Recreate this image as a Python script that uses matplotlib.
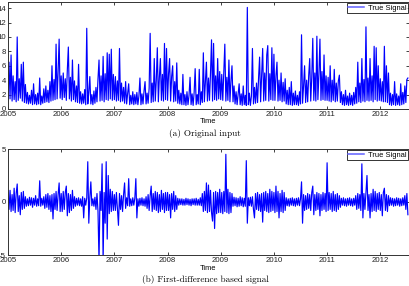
import numpy as np
import matplotlib
matplotlib.use("Agg")
import matplotlib.pyplot as plt

# ---- data: weekly samples ----
start_year = 2005
weeks_per_year = 52

sig_2005 = [1.2, 6.5, 1.4, 7.5, 1.1, 4.6, 1.3, 3.8, 1.0, 10.0, 1.2, 4.2, 1.5, 6.2, 1.1, 6.5, 0.9, 3.4,
            0.8, 2.3, 0.7, 1.9, 0.8, 2.6, 0.6, 3.5, 0.7, 2.0, 0.6, 2.2, 0.7, 4.3, 0.6, 1.8, 0.8,
            2.8, 0.9, 3.2, 1.0, 2.6, 0.9, 3.8, 1.1, 6.0, 1.2, 4.1, 1.3, 9.0, 1.4, 5.2, 9.7, 1.5]
sig_2006 = [4.6, 1.3, 5.0, 1.6, 4.2, 1.2, 5.4, 8.6, 1.4, 4.4, 1.1, 6.8, 1.3, 3.9, 1.0, 3.2, 0.9, 6.2,
            0.8, 2.4, 0.7, 2.1, 0.8, 2.7, 0.6, 11.2, 0.7, 2.3, 4.5, 0.7, 2.0, 0.6, 2.5, 0.8,
            3.0, 1.0, 4.2, 6.8, 1.1, 4.6, 1.2, 7.3, 1.0, 4.9, 1.3, 7.8, 1.2, 7.6, 1.4, 8.3, 1.2, 4.8]
sig_2007 = [1.3, 4.5, 1.1, 3.9, 1.2, 8.4, 1.0, 3.6, 1.1, 3.0, 0.8, 3.8,
            0.7, 2.2, 3.5, 0.6, 1.9, 0.7, 2.4, 0.6, 2.0, 0.7, 2.3, 0.6, 1.8, 4.3, 0.6, 2.1, 0.7, 2.5, 3.8, 0.7, 2.2, 0.8,
            2.9, 10.5, 0.9, 3.6, 1.0, 7.0, 1.1, 4.0, 8.5, 1.0, 4.4, 7.0, 1.2, 4.8, 1.1, 9.1, 1.3, 8.4]
sig_2008 = [1.2, 4.9, 7.0, 1.1, 4.5, 6.0, 1.0, 3.8, 1.1, 6.4, 0.8,
            2.6, 0.7, 2.2, 0.6, 4.8, 0.6, 2.0, 0.5, 2.4, 0.6, 1.9, 4.4, 0.6, 2.1, 0.5, 2.3, 5.6, 0.6, 2.0, 0.7, 5.5, 0.6, 2.4,
            0.9, 7.8, 1.0, 3.9, 6.5, 1.1, 4.3, 1.2, 5.0, 9.6, 1.1, 9.1, 1.3, 4.6, 1.2, 7.0, 1.4, 5.2]
sig_2009 = [1.3, 4.8, 1.2, 5.3, 9.0, 1.1, 4.4, 1.2, 6.8, 1.0, 3.9, 6.0, 1.0, 3.2,
            0.7, 2.4, 0.6, 2.0, 3.5, 0.6, 2.1, 0.5, 3.2, 0.6, 1.9, 0.5, 14.1, 0.6, 2.2, 0.5, 1.8,
            8.4, 0.7, 3.0, 0.8, 3.6, 0.9, 4.3, 7.2, 1.0, 4.6, 8.4, 1.1, 5.0, 1.2, 7.5, 8.8, 1.1, 4.9, 1.3, 8.5, 1.2]
sig_2010 = [7.6, 1.2, 4.6, 6.5, 1.1, 4.0, 1.2, 5.0, 1.0, 3.7, 1.1, 4.2,
            0.7, 2.6, 0.6, 3.0, 0.6, 3.8, 0.5, 2.2, 0.6, 2.5, 0.6, 1.9, 0.5, 2.4, 0.7,
            10.3, 0.8, 3.2, 6.0, 0.9, 4.0, 1.0, 4.6, 7.0, 1.1, 4.4, 9.8, 1.2, 5.0, 1.1, 10.1, 1.3, 4.8, 9.7, 1.2, 5.2, 1.3, 7.5, 1.2, 4.6]
sig_2011 = [1.2, 4.4, 1.1, 6.0, 1.0, 4.0, 1.2, 5.5, 1.0, 3.6, 1.1, 3.9, 4.7, 0.9,
            2.4, 0.6, 2.0, 0.5, 2.6, 0.6, 1.8, 0.5, 2.2, 0.6, 1.9, 0.5, 2.3, 0.7,
            3.0, 0.8, 6.5, 1.0, 3.6, 0.9, 7.0, 1.1, 4.1, 1.0, 11.4, 1.2, 4.3, 1.1, 7.0, 1.2, 4.6, 1.0, 8.7, 1.3, 8.5, 1.1, 6.0, 1.2]
sig_2012 = [4.2, 1.1, 3.8, 1.0, 8.7, 1.0, 6.0, 0.9, 5.0,
            0.6, 2.2, 0.5, 2.0, 0.6, 3.8, 0.5, 2.1, 0.6, 1.8, 0.5, 3.5, 0.6, 2.3, 0.7,
            3.2, 0.9, 4.1, 4.3]

dif_2005 = [0.9, -0.7, 1.1, -0.9, 0.7, -0.8, 1.3, -1.0, 0.8, 1.7, -0.9, 0.6, -1.2, 0.9, -0.7, 1.0, -0.6, 0.5,
            -0.4, 0.3, -0.35, 0.45, -0.3, 0.4, -0.5, 0.35, -0.3, 0.6, -0.4, 0.3, -0.35, 2.0, -0.4, 0.35, -0.3,
            0.5, -0.6, 0.7, -0.5, 0.8, -0.7, 0.6, -0.9, 0.7, -1.6, 0.8, -0.7, 1.0, -0.8, 0.7, 1.8, -0.9]
dif_2006 = [0.8, -0.9, 1.0, -0.7, 0.9, 1.5, -1.3, 0.8, -1.0, 0.7, -0.8, 1.1, -0.6, 0.5,
            -0.4, 0.35, -0.3, 0.4, -0.35, 0.3, -0.4, 0.5, -1.5, 0.35, -0.3, 0.4, 3.8, -2.0, 0.4, 1.9, -0.35, 0.3, -0.4, 0.45,
            -0.7, 0.8, -0.9, -5.6, 1.0, -0.8, 3.6, -5.6, 0.9, -2.0, 3.8, -3.5, 2.5, -1.1, 1.2, -0.9, 1.0, -0.8]
dif_2007 = [0.7, -0.8, 0.9, -0.6, -2.2, 0.8, -0.7, 0.6, -0.9, 0.7, 1.8, -0.6,
            0.4, -0.35, 2.2, -0.4, 0.3, -0.35, 0.4, -0.3, 0.35, 2.2, -1.5, 0.3, -0.4, 0.35, -0.3, 0.4, -0.35, 0.3, -0.4, 0.5,
            -0.6, 0.7, -0.8, 0.6, 1.5, -0.9, 0.8, -0.7, 1.0, -0.8, 0.9, -1.0, 0.7, -0.9, 1.1, -0.7, 0.8, -1.0, 0.9, -0.8]
dif_2008 = [0.9, -0.8, 0.7, -1.5, 0.8, -0.7, 1.0, -0.9, 0.6, -0.7,
            0.35, -0.3, 0.3, -0.25, 0.3, -0.3, 0.25, -0.3, 0.35, -0.25, 0.3, -0.3, 0.25, -0.35, 0.3, -0.25, 0.3, -0.3,
            0.35, -0.3, 0.25, -0.3, 0.4, -0.35,
            0.8, -0.9, 1.0, -0.8, 1.8, -1.0, 1.6, -0.9, 1.1, -1.0, -1.8, 0.9, -2.5, 1.0, -1.1, 0.9, -1.0, 1.2]
dif_2009 = [-1.0, 0.9, -1.1, 1.0, -0.9, 4.5, -1.0, 1.2, -1.1, 0.9, -1.0, 0.8,
            -0.4, 0.45, -0.35, 0.4, -0.45, 0.35, -0.4, 0.5, -0.35, 0.4, -0.45, 0.35, -0.4, 3.9, -2.0, 0.4, -0.35, 0.45, -0.4, 0.5,
            -0.7, -1.5, 0.8, -0.7, 0.9, -0.8, 0.7, -0.9, 0.8, -1.9, 0.9, -0.8, 1.0, -0.9, 0.8, -1.0, 1.2, -0.9, 1.0, -0.8]
dif_2010 = [0.9, -1.0, 1.5, -0.9, 1.0, -1.5, 0.8, -0.9, 1.1, -1.0, 0.9, -0.8,
            0.4, -0.35, 0.3, -0.4, 0.35, -0.3, 0.4, -0.35, 0.3, -0.4, 0.35, -0.3, 0.4, -0.35, 0.3,
            1.9, -2.0, 0.7, -0.8, 0.6, -0.7, 0.8, -0.6, 0.7, -0.8, 0.9, 1.5, -1.2, 0.7, -0.8, 0.9, -0.7, 0.8, -1.3,
            0.7, -0.8, 0.9, -0.7, 0.8, -0.9]
dif_2011 = [3.7, -0.8, 0.9, -0.7, 0.8, -0.9, 1.0, -0.8, 0.7, -0.9, 0.8, -0.7, 0.6, -0.5,
            0.35, -0.3, 0.4, -0.35, 0.3, -0.4, 0.35, -0.3, 0.4, -0.35, 0.3, -0.4, 0.35, -0.3,
            0.6, -0.7, 0.8, -0.6, 0.7, -0.8, 3.6, -1.5, 0.8, -0.7, 0.9, 2.5, -0.8, 0.7, -1.5, 0.8, -0.9, 1.2,
            -0.8, 1.0, -0.9, 0.8, -0.7, 0.9]
dif_2012 = [-0.8, 0.7, -1.3, 0.9, 1.3, -0.8, 0.7, -0.9, 0.6,
            -0.35, 0.4, -0.3, 0.35, -0.4, 0.3, -0.35, 0.4, -0.3, 0.35, -0.4, 0.3, -0.35, 0.4, -0.3,
            0.6, -0.7, 0.8, -1.2]

year_ticks = [2005, 2006, 2007, 2008, 2009, 2010, 2011, 2012]
top_yticks = [0, 2, 4, 6, 8, 10, 12, 14]
bot_yticks = [-5, 0, 5]
legend_label = "True Signal"
xlabel = "Time"
caption_a = "(a) Original input"
caption_b = "(b) First-difference based signal"

signal = sum([sig_2005, sig_2006, sig_2007, sig_2008, sig_2009, sig_2010, sig_2011, sig_2012], [])
diff = sum([dif_2005, dif_2006, dif_2007, dif_2008, dif_2009, dif_2010, dif_2011, dif_2012], [])
t_sig = start_year + np.arange(len(signal)) / weeks_per_year
t_dif = start_year + np.arange(len(diff)) / weeks_per_year

plt.rcParams['font.family'] = ['Liberation Sans', 'DejaVu Sans']
plt.rcParams['axes.unicode_minus'] = False

fig = plt.figure(figsize=(4.10, 2.86), dpi=100)
ax1 = fig.add_axes([8/410, 1-109/286, 401/410, 107/286])
ax2 = fig.add_axes([8/410, 1-255/286, 401/410, 106/286])

blue = '#0000ff'
ax1.plot(t_sig, signal, color=blue, lw=0.85, label=legend_label)
ax2.plot(t_dif, diff, color=blue, lw=0.85, label=legend_label)

xmax = 2012.54
for ax, yt, ylim in ((ax1, top_yticks, (0, 14.85)), (ax2, bot_yticks, (-5, 5))):
    ax.set_xlim(2005, xmax)
    ax.set_ylim(*ylim)
    ax.set_xticks(year_ticks)
    ax.set_xticklabels([str(y) for y in year_ticks])
    ax.set_yticks(yt)
    ax.tick_params(direction='in', length=2.5, width=0.6, labelsize=5.6, pad=1.5,
                   top=True, right=True, colors='#222222')
    for s in ax.spines.values():
        s.set_linewidth(0.7)
        s.set_color('#333333')
    ax.set_xlabel(xlabel, fontsize=5.4, labelpad=0.3)
    leg = ax.legend(loc='upper right', fontsize=5.4, frameon=True, fancybox=False,
                    borderpad=0.2, handlelength=2.1, handletextpad=0.5,
                    borderaxespad=0.15)
    leg.get_frame().set_edgecolor('black')
    leg.get_frame().set_linewidth(0.7)
    for lh in leg.get_lines():
        lh.set_linewidth(1.1)
        lh.set_color('#6060ff')

fig.text(0.5, 1-134/286, caption_a, ha='center', va='center', fontsize=6.6, family='cmr10')
fig.text(0.5, 1-279/286, caption_b, ha='center', va='center', fontsize=6.6, family='cmr10')

fig.savefig('out.png', dpi=100)
